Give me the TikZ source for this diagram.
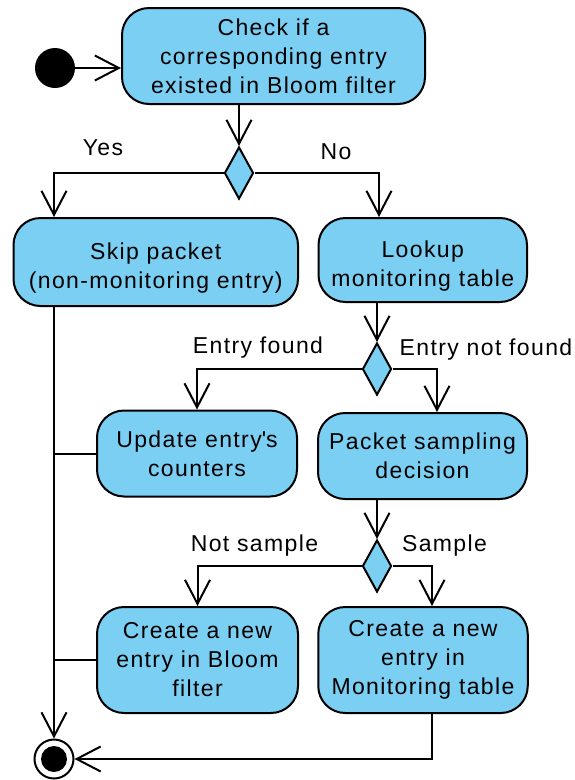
\documentclass[tikz,border=0pt]{standalone}
\usepackage{fontspec}
\setmainfont{Liberation Sans}[LetterSpace=6]
\usetikzlibrary{arrows.meta,shapes.geometric}
\definecolor{actfill}{RGB}{122,207,243}
\newcommand{\lowerstrut}{\rule{0pt}{29pt}}
\tikzset{
  action/.style={draw, fill=actfill, line width=2pt, rounded corners=27pt,
    align=center, inner sep=0pt, font=\fontsize{23}{29}\selectfont},
  decision/.style={draw, fill=actfill, line width=2pt, diamond, inner sep=0pt,
    minimum width=29pt, minimum height=52pt},
  flow/.style={line width=2pt, -{Straight Barb[length=24pt,width=25pt,line width=2pt]}},
  plain/.style={line width=2pt},
  guard/.style={font=\fontsize{23}{29}\selectfont, inner sep=0pt},
}
\begin{document}
\begin{tikzpicture}[x=1pt, y=-1pt]
\useasboundingbox (0,0) rectangle (574,780);

% initial and final nodes
\node[circle, fill=black, minimum size=40pt, inner sep=0pt] (start) at (55,68) {};
\node[circle, draw, line width=2pt, minimum size=39pt, inner sep=0pt,
  path picture={\fill (path picture bounding box.center) circle (13pt);}] (final) at (54,759) {};

% actions
\node[action, minimum width=303pt, minimum height=96pt] (check) at (273.5,56)
  {Check if a\\corresponding entry\\existed in Bloom filter};
\node[action, minimum width=284.5pt, minimum height=88pt] (skip) at (155.75,262)
  {\lowerstrut Skip packet\\(non-monitoring entry)};
\node[action, minimum width=208.5pt, minimum height=84pt] (lookup) at (422.75,260)
  {\lowerstrut Lookup\\monitoring table};
\node[action, minimum width=200pt, minimum height=86pt] (update) at (197,453.5)
  {Update entry\textquotesingle s\\counters};
\node[action, minimum width=209pt, minimum height=86pt] (sampling) at (422.5,456)
  {Packet sampling\\decision};
\node[action, minimum width=201pt, minimum height=106pt] (newbloom) at (197.5,660)
  {Create a new\\entry in Bloom\\filter};
\node[action, minimum width=209.5pt, minimum height=106pt] (newmon) at (423,660)
  {Create a new\\entry in\\Monitoring table};

% decisions
\node[decision] (inbloom) at (239,173) {};
\node[decision] (found) at (377,369) {};
\node[decision] (sample) at (377,566) {};

% branch columns
\coordinate (trunk) at (54,0);
\coordinate (nocol) at (379,0);
\coordinate (nfcol) at (437,0);
\coordinate (smcol) at (432,0);

% guards
\node[guard] (lyes) at (103,148) {Yes};
\node[guard] (lno) at (336,152) {No};
\node[guard] (lfound) at (258,348) {Entry found};
\node[guard] (lnfound) at (486,350) {Entry not found};
\node[guard] (lnot) at (254.5,546) {Not sample};
\node[guard] (lsample) at (444.5,546) {Sample};

% control flow
\draw[flow] (start.east) -- (start.east -| check.west);
\draw[flow] (inbloom |- check.south) -- (inbloom.north);
\draw[flow] (inbloom.west) -| (trunk |- skip.north);
\draw[flow] (inbloom.east) -| (nocol |- lookup.north);
\draw[flow] (found |- lookup.south) -- (found.north);
\draw[flow] (found.west) -| (update.north);
\draw[flow] (found.east) -| (nfcol |- sampling.north);
\draw[flow] (sample |- sampling.south) -- (sample.north);
\draw[flow] (sample.west) -| (newbloom.north);
\draw[flow] (sample.east) -| (smcol |- newmon.north);
\draw[flow] (trunk |- skip.south) -- (final.north);
\draw[plain] (update.west) -- (update.west -| trunk);
\draw[plain] (newbloom.west) -- (newbloom.west -| trunk);
\draw[flow] (smcol |- newmon.south) |- (final.east);
\end{tikzpicture}
\end{document}
